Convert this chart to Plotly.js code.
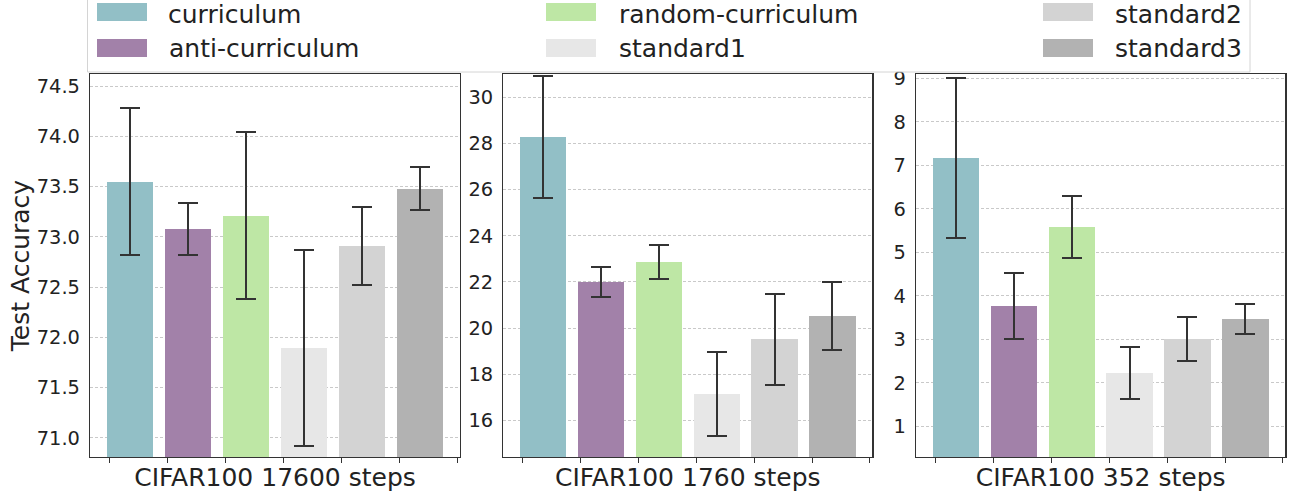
<!DOCTYPE html>
<html>
<head>
<meta charset="utf-8">
<script src="https://cdn.plot.ly/plotly-3.0.1.min.js"></script>
<style>html,body{margin:0;padding:0;background:#fff;}#chart{width:1296px;height:504px;}</style>
</head>
<body>
<div id="chart"></div>
<script>
// ---- data ----
const categories = ['curriculum', 'anti-curriculum', 'random-curriculum', 'standard1', 'standard2', 'standard3'];
const colors = ['#92bfc6', '#a281a9', '#bee7a5', '#e7e7e7', '#d3d3d3', '#b2b2b2'];
const panelTitles = ['CIFAR100 17600 steps', 'CIFAR100 1760 steps', 'CIFAR100 352 steps'];
const acc17600 = [73.55, 73.08, 73.21, 71.89, 72.91, 73.48];
const err17600 = [0.735, 0.26, 0.83, 0.975, 0.39, 0.21];
const acc1760 = [28.28, 21.99, 22.86, 17.14, 19.52, 20.52];
const err1760 = [2.63, 0.65, 0.72, 1.84, 1.97, 1.48];
const acc352 = [7.17, 3.77, 5.58, 2.23, 3.00, 3.47];
const err352 = [1.83, 0.76, 0.72, 0.60, 0.505, 0.345];
const yTitle = 'Test Accuracy';

const panelData = [[acc17600, err17600], [acc1760, err1760], [acc352, err352]];
const W = 1296, H = 504;
const px = v => v / W;
const py = v => 1 - v / H;
const FONT = 'DejaVu Sans, sans-serif';

const xIdx = categories.map((_, i) => i);
const traces = panelData.map((pd, p) => ({
  type: 'bar',
  x: xIdx,
  y: pd[0],
  width: 0.8,
  marker: {color: colors, line: {width: 0}},
  error_y: {type: 'data', array: pd[1], visible: true, color: '#333333', thickness: 2, width: 10},
  xaxis: p === 0 ? 'x' : 'x' + (p + 1),
  yaxis: p === 0 ? 'y' : 'y' + (p + 1),
  showlegend: false,
  hoverinfo: 'skip'
}));

const xDomains = [[90, 460], [503.3, 872.3], [916, 1285.3]];
const yRanges = [[70.81, 74.62], [14.41, 31.01], [0.294, 9.1]];
const yTicks = [{tick0: 71, dtick: 0.5, fmt: '.1f'}, {tick0: 16, dtick: 2, fmt: 'd'}, {tick0: 1, dtick: 1, fmt: 'd'}];
const tickVals = [-0.35, 0.65, 1.65, 2.65, 3.65, 4.65, 5.65];

const layout = {
  width: W, height: H,
  margin: {l: 0, r: 0, t: 0, b: 0},
  paper_bgcolor: '#ffffff',
  plot_bgcolor: '#ffffff',
  font: {family: FONT, color: '#222222'},
  bargap: 0,
  shapes: [],
  annotations: []
};

for (let p = 0; p < 3; p++) {
  const sx = p === 0 ? '' : String(p + 1);
  layout['xaxis' + sx] = {
    domain: [px(xDomains[p][0]), px(xDomains[p][1])],
    anchor: 'y' + sx,
    range: [-0.69, 5.69],
    tickmode: 'array', tickvals: tickVals, ticktext: tickVals.map(() => ''),
    ticks: 'outside', ticklen: 5, tickwidth: 1, tickcolor: '#333333',
    showline: true, mirror: true, linecolor: '#333333', linewidth: 1.2,
    showgrid: false, zeroline: false,
    title: {text: panelTitles[p], font: {size: 25, family: FONT, color: '#222222'}, standoff: 3}
  };
  layout['yaxis' + sx] = {
    domain: [py(457), py(74)],
    anchor: 'x' + sx,
    range: yRanges[p],
    tickmode: 'linear', tick0: yTicks[p].tick0, dtick: yTicks[p].dtick,
    tickformat: yTicks[p].fmt,
    ticks: '', ticklabelstandoff: 5,
    tickfont: {size: 19.4, family: FONT, color: '#222222'},
    showline: true, mirror: true, linecolor: '#333333', linewidth: 1.2,
    showgrid: true, gridcolor: '#bbbbbb', gridwidth: 0.8, griddash: '3px,2px',
    zeroline: false
  };
}
layout.yaxis.title = {text: yTitle, font: {size: 25, family: FONT, color: '#222222'}, standoff: 0};

// legend box (manual, 3 columns, column-major like the reference)
const bx0 = px(87.5), bx1 = px(1250), by0 = py(72), by1 = py(-10);
layout.shapes.push({
  type: 'rect', xref: 'paper', yref: 'paper',
  x0: bx0, x1: bx1, y0: by0, y1: by1,
  line: {color: '#d4d4d4', width: 1}, fillcolor: 'rgba(255,255,255,0.8)', layer: 'above'
});
const swX = [97, 546, 1043];
const txX = [166.5, 616.5, 1113];
const rowY = [12, 48];
const textRowY = [14, 48];
categories.forEach((name, i) => {
  const col = Math.floor(i / 2), row = i % 2;
  layout.shapes.push({
    type: 'rect', xref: 'paper', yref: 'paper',
    x0: px(swX[col]), x1: px(swX[col] + 50),
    y0: py(rowY[row] + 9), y1: py(rowY[row] - 9),
    line: {width: 0}, fillcolor: colors[i], layer: 'above'
  });
  layout.annotations.push({
    xref: 'paper', yref: 'paper', x: px(txX[col]), y: py(textRowY[row]),
    xanchor: 'left', yanchor: 'middle', showarrow: false,
    text: name, font: {size: 25, family: FONT, color: '#222222'}
  });
});

Plotly.newPlot('chart', traces, layout, {staticPlot: true, displayModeBar: false});
</script>
</body>
</html>
